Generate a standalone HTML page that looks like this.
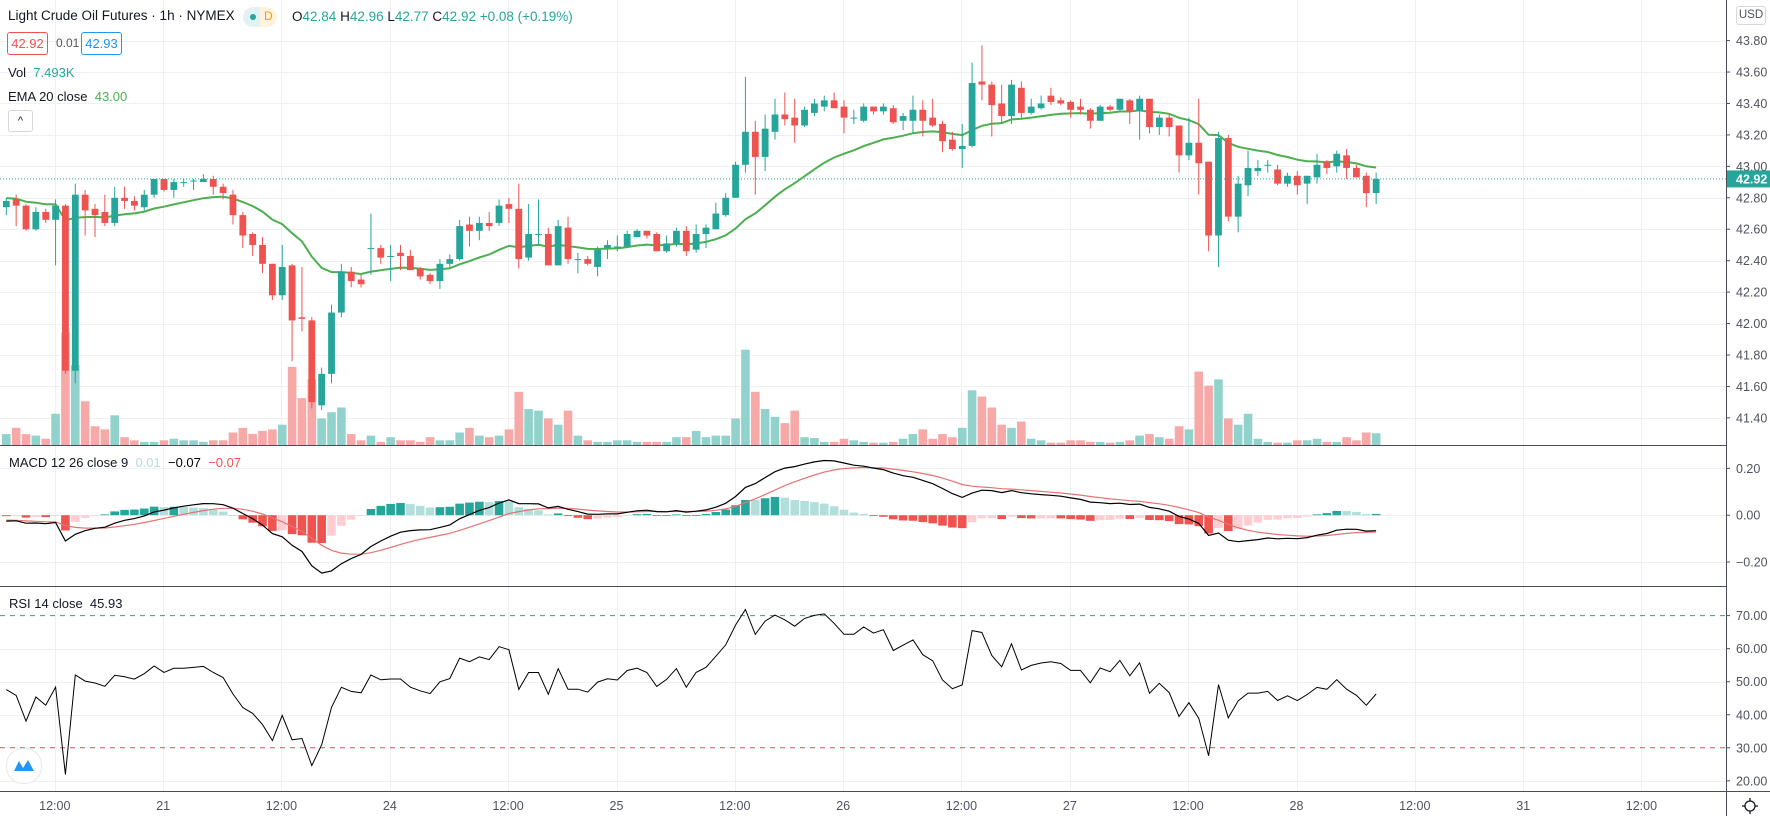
<!DOCTYPE html>
<html><head><meta charset="utf-8">
<style>
html,body{margin:0;padding:0;background:#fff;}
#wrap{position:relative;width:1770px;height:816px;overflow:hidden;font-family:"Liberation Sans",sans-serif;color:#131722;}
svg{position:absolute;left:0;top:0;}
.t{position:absolute;white-space:nowrap;font-size:13px;line-height:16px;}
</style></head>
<body>
<div id="wrap">
<svg id="chart" width="1770" height="816"></svg>

<div class="t" style="left:8px;top:8px;font-size:13.5px;">Light Crude Oil Futures · 1h · NYMEX</div>
<div style="position:absolute;left:243px;top:7px;width:34px;height:20px;border-radius:10px;background:linear-gradient(90deg,#e0f2f1 50%,#fff3e0 50%);">
  <div style="position:absolute;left:7px;top:7px;width:6px;height:6px;border-radius:3px;background:#26a69a;"></div>
  <div style="position:absolute;left:21px;top:2px;font-size:12px;color:#ff9800;">D</div>
</div>
<div class="t" style="left:292px;top:9px;font-size:13.5px;">O<span style="color:#26a69a">42.84</span> H<span style="color:#26a69a">42.96</span> L<span style="color:#26a69a">42.77</span> C<span style="color:#26a69a">42.92</span> <span style="color:#26a69a">+0.08 (+0.19%)</span></div>
<div class="t" style="left:7px;top:32px;width:39px;height:21px;border:1px solid #ef5350;border-radius:3px;color:#ef5350;text-align:center;line-height:21px;">42.92</div>
<div class="t" style="left:56px;top:35px;font-size:12px;color:#555;">0.01</div>
<div class="t" style="left:81px;top:32px;width:39px;height:21px;border:1px solid #2196f3;border-radius:3px;color:#2196f3;text-align:center;line-height:21px;">42.93</div>
<div class="t" style="left:8px;top:65px;">Vol&nbsp; <span style="color:#26a69a">7.493K</span></div>
<div class="t" style="left:8px;top:89px;">EMA 20 close&nbsp; <span style="color:#4caf50">43.00</span></div>
<div style="position:absolute;left:8px;top:110px;width:23px;height:20px;border:1px solid #d6d8de;border-radius:3px;text-align:center;font-size:11px;line-height:20px;">^</div>
<div class="t" style="left:9px;top:455px;">MACD 12 26 close 9&nbsp; <span style="color:#b2dfdb">0.01</span>&nbsp; <span style="color:#000">−0.07</span>&nbsp; <span style="color:#ef5350">−0.07</span></div>
<div class="t" style="left:9px;top:596px;">RSI 14 close&nbsp; 45.93</div>
<div class="t" style="left:1736px;top:6px;width:28px;height:17px;border:1px solid #d6d8de;border-radius:3px;font-size:11.5px;line-height:17px;text-align:center;color:#50535e;">USD</div>
<div style="position:absolute;left:6px;top:748px;width:34px;height:34px;border-radius:17px;background:#fff;border:1px solid #e6e8ee;">
<svg width="34" height="34" style="position:static"><path d="M7 22 L12 12 L16 19 L21 11 L27 22 Z" fill="#2196f3"/></svg></div>
<div style="position:absolute;left:1741px;top:797px;width:18px;height:18px;">
<svg width="18" height="18" style="position:static"><circle cx="9" cy="9" r="5" fill="none" stroke="#131722" stroke-width="1.3"/><g stroke="#131722" stroke-width="1.3"><line x1="9" y1="1" x2="9" y2="4"/><line x1="9" y1="14" x2="9" y2="17"/><line x1="1" y1="9" x2="4" y2="9"/><line x1="14" y1="9" x2="17" y2="9"/></g></svg></div>
</div>

<script>
const opens=[42.74,42.79,42.75,42.60,42.71,42.66,42.75,41.70,42.82,42.73,42.71,42.64,42.80,42.78,42.74,42.82,42.92,42.85,42.90,42.91,42.90,42.92,42.87,42.82,42.69,42.57,42.50,42.38,42.18,42.37,42.04,42.02,41.48,41.68,42.07,42.33,42.28,42.48,42.48,42.43,42.45,42.43,42.35,42.31,42.27,42.38,42.41,42.63,42.59,42.64,42.64,42.76,42.73,42.42,42.57,42.57,42.37,42.61,42.41,42.41,42.36,42.48,42.49,42.49,42.55,42.59,42.57,42.46,42.51,42.59,42.47,42.57,42.60,42.69,42.80,43.01,43.22,43.06,43.22,43.33,43.31,43.26,43.34,43.38,43.42,43.38,43.31,43.29,43.38,43.35,43.37,43.29,43.29,43.36,43.31,43.27,43.17,43.11,43.13,43.54,43.52,43.40,43.32,43.50,43.34,43.37,43.45,43.42,43.41,43.38,43.36,43.29,43.38,43.36,43.42,43.35,43.43,43.25,43.31,43.26,43.07,43.15,43.03,42.56,43.18,42.68,42.88,42.97,43.01,42.98,42.89,42.94,42.89,42.93,43.03,43.00,43.07,42.99,42.94,42.83];
const highs=[42.80,42.82,42.76,42.74,42.73,42.79,42.76,42.89,42.85,42.76,42.82,42.87,42.87,42.81,42.85,42.92,42.92,42.92,42.92,42.92,42.95,42.94,42.89,42.85,42.71,42.58,42.55,42.38,42.50,42.38,42.36,42.04,41.72,42.12,42.38,42.36,42.31,42.70,42.50,42.50,42.50,42.47,42.36,42.32,42.41,42.44,42.66,42.68,42.68,42.71,42.79,42.80,42.89,42.76,42.79,42.61,42.66,42.68,42.45,42.43,42.49,42.53,42.56,42.59,42.60,42.59,42.58,42.56,42.61,42.62,42.63,42.63,42.77,42.83,43.03,43.57,43.29,43.33,43.43,43.47,43.43,43.38,43.43,43.45,43.47,43.42,43.36,43.40,43.38,43.40,43.39,43.34,43.45,43.42,43.43,43.29,43.22,43.27,43.66,43.77,43.54,43.52,43.55,43.54,43.43,43.45,43.50,43.44,43.42,43.43,43.37,43.39,43.39,43.43,43.43,43.45,43.43,43.33,43.33,43.26,43.31,43.43,43.03,43.22,43.20,42.94,43.10,43.04,43.04,43.01,42.96,42.97,42.94,43.08,43.04,43.10,43.11,43.01,42.96,42.96];
const lows=[42.69,42.62,42.59,42.59,42.64,42.37,41.68,41.62,42.56,42.55,42.62,42.62,42.73,42.72,42.72,42.80,42.84,42.80,42.87,42.85,42.90,42.82,42.79,42.63,42.48,42.43,42.32,42.15,42.15,41.76,41.95,41.46,41.45,41.62,42.04,42.23,42.23,42.31,42.38,42.27,42.34,42.34,42.28,42.25,42.22,42.35,42.40,42.49,42.53,42.59,42.62,42.64,42.35,42.40,42.50,42.37,42.37,42.38,42.32,42.37,42.30,42.41,42.46,42.49,42.55,42.54,42.46,42.45,42.49,42.43,42.45,42.48,42.60,42.68,42.80,42.96,42.82,42.97,43.17,43.26,43.15,43.25,43.32,43.35,43.37,43.21,43.27,43.28,43.33,43.33,43.27,43.23,43.21,43.19,43.25,43.09,43.10,42.99,43.12,43.42,43.19,43.27,43.27,43.31,43.33,43.36,43.39,43.39,43.31,43.33,43.24,43.29,43.35,43.35,43.27,43.17,43.21,43.20,43.19,42.96,43.04,42.82,42.46,42.36,42.65,42.58,42.81,42.94,42.96,42.88,42.87,42.82,42.76,42.89,42.95,42.96,42.92,42.93,42.74,42.76];
const closes=[42.78,42.75,42.60,42.71,42.66,42.75,41.70,42.82,42.72,42.69,42.64,42.80,42.78,42.75,42.82,42.92,42.85,42.90,42.90,42.91,42.92,42.87,42.83,42.69,42.56,42.50,42.38,42.18,42.36,42.02,42.03,41.50,41.68,42.07,42.33,42.27,42.25,42.48,42.42,42.43,42.43,42.34,42.30,42.27,42.38,42.41,42.62,42.59,42.64,42.62,42.75,42.73,42.41,42.57,42.57,42.37,42.62,42.41,42.41,42.38,42.47,42.50,42.49,42.57,42.59,42.56,42.46,42.51,42.59,42.46,42.57,42.61,42.70,42.80,43.01,43.22,43.06,43.24,43.33,43.30,43.26,43.36,43.40,43.42,43.37,43.31,43.31,43.38,43.35,43.38,43.28,43.32,43.36,43.29,43.26,43.16,43.11,43.13,43.53,43.52,43.39,43.32,43.52,43.34,43.38,43.40,43.41,43.40,43.36,43.36,43.29,43.38,43.36,43.43,43.35,43.43,43.25,43.31,43.25,43.07,43.15,43.02,42.56,43.18,42.68,42.89,42.99,42.99,43.01,42.89,42.94,42.88,42.94,43.01,42.99,43.08,42.99,42.93,42.83,42.92];
const volumes=[7,11,7,6,4,20,72,51,28,12,10,19,5,3,2,2,3,4,3,3,2,3,3,8,11,7,9,10,13,50,30,42,17,21,24,7,3,6,2,5,3,3,2,5,3,3,8,11,6,5,6,10,34,23,22,17,13,22,6,3,2,2,3,3,2,2,2,2,5,5,9,5,6,6,17,61,34,23,18,14,22,5,4.5,2,2,4,3,2,1.5,1.5,2,4,7,10,4,7,5,11,35,31,24,13,11,15,4,3,1.5,1.5,3,3,2,2,1.5,2,3,6,7,5,4,12,10,47,38,42,17,13,20,4,2,1.5,1.5,3,3,4,2,2,5,3,8,7.5];
const priceTicks=["43.80","43.60","43.40","43.20","43.00","42.80","42.60","42.40","42.20","42.00","41.80","41.60","41.40"];
const macdTicks=["0.20","0.00","−0.20"];
const rsiTicks=["70.00","60.00","50.00","40.00","30.00","20.00"];
const timeLabels=["12:00","21","12:00","24","12:00","25","12:00","26","12:00","27","12:00","28","12:00","31","12:00"];
const timeLabelBars=[5,16,28,39,51,62,74,85,97,108,120,131,143,154,166];

const NS="http://www.w3.org/2000/svg";
const svg=document.getElementById('chart');
const UP="#26a69a",DN="#ef5350";
const xOf=i=>6.3+9.855*i;
const yP=p=>40.6+(43.8-p)*157.2;
const yV=v=>445-v*1.5625;
const yM=m=>515.2-m*234;
const yR=r=>615.6+(70-r)*3.305;
function el(tag,attrs,parent){const e=document.createElementNS(NS,tag);for(const k in attrs)e.setAttribute(k,attrs[k]);(parent||svg).appendChild(e);return e;}

const grid=el('g',{});


timeLabelBars.forEach(b=>{const x=Math.round(xOf(b)-0.8)+0.5;el('line',{x1:x,y1:0,x2:x,y2:791,stroke:'#eef0f4','stroke-width':1},grid);});
priceTicks.forEach(t=>{const y=Math.round(yP(parseFloat(t)))+0.5;el('line',{x1:0,y1:y,x2:1726,y2:y,stroke:'#eef0f4'},grid);});
macdTicks.forEach(t=>{const y=Math.round(yM(parseFloat(t.replace('−','-'))))+0.5;el('line',{x1:0,y1:y,x2:1726,y2:y,stroke:'#eef0f4'},grid);});
rsiTicks.forEach(t=>{const v=parseFloat(t);if(v===70||v===30)return;const y=Math.round(yR(v))+0.5;el('line',{x1:0,y1:y,x2:1726,y2:y,stroke:'#eef0f4'},grid);});

const vg=el('g',{});


volumes.forEach((v,i)=>{const up=closes[i]>=opens[i];const y=yV(v);
 const r=el('rect',{x:xOf(i)-4.3,y:y,width:8.6,height:445-y,fill:up?'#92d2cc':'#f7a9a7'},vg);
 
 });

let ema=42.80;const emaV=[];closes.forEach(c=>{ema=ema+(c-ema)*2/21;emaV.push(ema);});
const emaPath=el('path',{d:emaV.map((v,i)=>(i?'L':'M')+xOf(i).toFixed(1)+' '+yP(v).toFixed(1)).join(''),fill:'none',stroke:'#4caf50','stroke-width':2});



const cg=el('g',{});


closes.forEach((c,i)=>{const o=opens[i],up=c>=o,col=up?UP:DN,x=xOf(i);
 const g=el('g',{},cg);
 
 
 el('line',{x1:x,y1:yP(highs[i]),x2:x,y2:yP(lows[i]),stroke:col,'stroke-width':1},g);
 const t=yP(Math.max(o,c)),b=yP(Math.min(o,c));
 el('rect',{x:x-3.4,y:t,width:6.8,height:Math.max(1,b-t),fill:col},g);});

const lp=closes[closes.length-1];
const lpl=el('line',{x1:0,y1:yP(lp),x2:1726,y2:yP(lp),stroke:UP,'stroke-width':1,'stroke-dasharray':'1 2'});



let f=42.75,s=42.78,sig=-0.02;const mac=[],sg=[];
closes.forEach(c=>{f+= (c-f)*2/13;s+=(c-s)*2/27;const m=f-s;sig+=(m-sig)*2/10;mac.push(m);sg.push(sig);});
const hg=el('g',{});


let prevH=0;
mac.forEach((m,i)=>{const h=m-sg[i];let col;
 if(h>=0)col=h>=prevH?'#26a69a':'#b2dfdb';else col=h<prevH?'#ef5350':'#ffcdd2';prevH=h;
 const y0=yM(0),y1=yM(h);
 const r=el('rect',{x:xOf(i)-4.3,y:Math.min(y0,y1),width:8.6,height:Math.max(0.8,Math.abs(y1-y0)),fill:col},hg);
 
 });
const sp=el('path',{d:sg.map((v,i)=>(i?'L':'M')+xOf(i).toFixed(1)+' '+yM(v).toFixed(1)).join(''),fill:'none',stroke:'#e57373','stroke-width':1.2});


const mp=el('path',{d:mac.map((v,i)=>(i?'L':'M')+xOf(i).toFixed(1)+' '+yM(v).toFixed(1)).join(''),fill:'none',stroke:'#000','stroke-width':1.2});



let ag=0.03,al=0.033;const rsi=[];
closes.forEach((c,i)=>{const d=i?c-closes[i-1]:c-42.78;ag=(ag*13+Math.max(d,0))/14;al=(al*13+Math.max(-d,0))/14;rsi.push(100-100/(1+ag/al));});
const r70=el('line',{x1:0,y1:yR(70),x2:1726,y2:yR(70),stroke:'#4c9a6a','stroke-dasharray':'5 5'});


const r30=el('line',{x1:0,y1:yR(30),x2:1726,y2:yR(30),stroke:'#d35454','stroke-dasharray':'5 5'});


const rp=el('path',{d:rsi.map((v,i)=>(i?'L':'M')+xOf(i).toFixed(1)+' '+yR(v).toFixed(1)).join(''),fill:'none',stroke:'#000','stroke-width':1});



[445.5,586.5].forEach(y=>{const l=el('line',{x1:0,y1:y,x2:1726,y2:y,stroke:'#4a4e58','stroke-width':1});
 
 });
const ax=el('line',{x1:1726.5,y1:0,x2:1726.5,y2:816,stroke:'#4a4e58'});


const tx=el('line',{x1:0,y1:791.5,x2:1770,y2:791.5,stroke:'#4a4e58'});



function axisLabel(txt,y,name){
 el('line',{x1:1726,y1:y,x2:1730,y2:y,stroke:'#4a4e58'});
 const t=el('text',{x:1736,y:y+4.5,'font-size':12.5,fill:'#50535e','font-family':'Liberation Sans, sans-serif'});
 t.textContent=txt;
 
 }
priceTicks.forEach(t=>axisLabel(t,yP(parseFloat(t)),'price-tick-label'));
macdTicks.forEach(t=>axisLabel(t,yM(parseFloat(t.replace('−','-'))),'macd-tick-label'));
rsiTicks.forEach(t=>axisLabel(t,yR(parseFloat(t)),'rsi-tick-label'));

const tag=el('rect',{x:1727,y:yP(lp)-8.5,width:43,height:17,fill:UP});


const tt=el('text',{x:1736,y:yP(lp)+4.5,'font-size':12.5,'font-weight':'bold',fill:'#fff','font-family':'Liberation Sans, sans-serif'});
tt.textContent=lp.toFixed(2);



timeLabels.forEach((l,i)=>{const x=xOf(timeLabelBars[i])-0.8;
 const t=el('text',{x:x,y:810,'font-size':12.5,fill:'#50535e','text-anchor':'middle','font-family':'Liberation Sans, sans-serif'});
 t.textContent=l;
 
 });
</script>
</body></html>
